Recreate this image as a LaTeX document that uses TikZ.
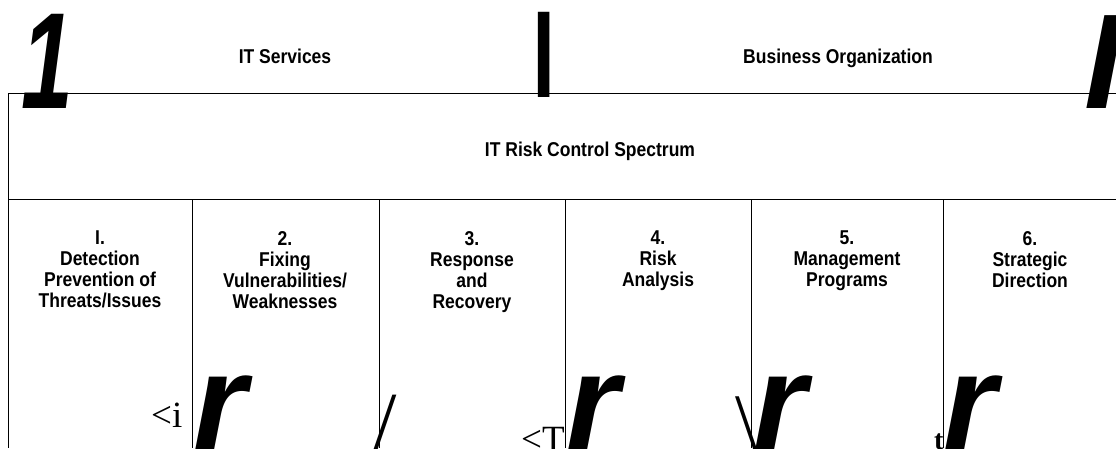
\documentclass[tikz,border=0pt]{standalone}
\usepackage{fontspec}
\setmainfont{Liberation Sans}
\newfontfamily\condensed[FakeStretch=0.875]{Liberation Sans}
\newfontfamily\serifglyph{Liberation Serif}
\begin{document}
\begin{tikzpicture}[x=1pt,y=-1pt,
  rule/.style={line width=1pt, black},
  label/.style={inner sep=0pt, font=\condensed\bfseries\fontsize{20}{21}\selectfont},
  colhead/.style={label, align=center, anchor=north},
  bigital/.style={inner sep=0pt, anchor=base west, font=\bfseries\itshape\fontsize{137}{137}\selectfont},
  stray/.style={inner sep=0pt, anchor=base west, font=\serifglyph\fontsize{37}{37}\selectfont}]
\useasboundingbox (0,0) rectangle (1116,448);
\fill[white] (0,0) rectangle (1116,448);
\begin{scope}
\clip (0,0) rectangle (1116,448);

% table frame
\draw[rule] (8,93) -- (1116,93);
\draw[rule] (8,199) -- (1116,199);
\draw[rule] (8,93) -- (8,448);
\foreach \x in {192,379,565,751,943} \draw[rule] (\x,199) -- (\x,448);

% heading band
\node[bigital] (one) at (21,108) {\scalebox{0.68}[1]{1}};
\node[label, anchor=base] (svc) at (285,63) {IT Services};
\node[inner sep=0pt, font=\bfseries\fontsize{90}{90}\selectfont] (bar) at (544,55) {|};
\node[label, anchor=base] (biz) at (838,63) {Business Organization};
\node[bigital, font=\bfseries\itshape\fontsize{135}{135}\selectfont] (edge) at (1084,108) {I};

% spectrum title
\node[label, anchor=base] (title) at (590,156) {IT Risk Control Spectrum};

% column headings
\node[colhead] (h1) at (100,231) {I.\\Detection\\Prevention of\\Threats/Issues};
\node[colhead] (h2) at (285,231) {2.\\Fixing\\Vulnerabilities/\\Weaknesses};
\node[colhead] (h3) at (472,231) {3.\\Response\\and\\Recovery};
\node[colhead] (h4) at (658,231) {4.\\Risk\\Analysis};
\node[colhead] (h5) at (847,231) {5.\\Management\\Programs};
\node[colhead] (h6) at (1030,231) {6.\\Strategic\\Direction};

% stray glyphs along the lower edge
\node[stray] (s1) at (151,427) {<i};
\node[bigital] (r1) at (193,449) {r};
\node[stray, font=\serifglyph\fontsize{84}{84}\selectfont] (s2) at (373,450) {/};
\node[stray] (s3) at (521,451) {<T};
\node[bigital] (r2) at (566,449) {r};
\node[stray, font=\serifglyph\fontsize{80}{80}\selectfont] (s4) at (735,449) {\textbackslash};
\node[bigital] (r3) at (753,449) {r};
\node[stray, font=\serifglyph\bfseries\fontsize{28}{28}\selectfont] (s5) at (934,449) {t};
\node[bigital] (r4) at (943,449) {r};
\end{scope}
\end{tikzpicture}
\end{document}
